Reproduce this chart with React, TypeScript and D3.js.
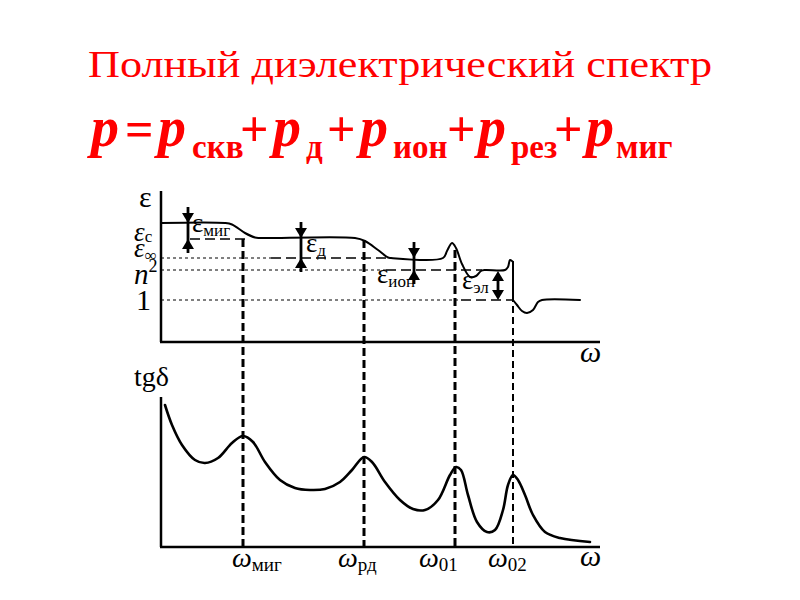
import React from "react";
import * as d3 from "d3";

// ---------- data ----------
const titleText = "Полный диэлектрический спектр";
const formulaTerms = ["скв", "д", "ион", "рез", "миг"];

// resonance / relaxation frequencies (x in lg ω units)
const resonanceLabels = ["миг", "рд", "01", "02"];
const resonanceX = [8.2, 20.3, 29.4, 35.2];
const resonanceTopEps = [103, 102, 92, 80];
const resonanceBold = [true, true, true, false];

// ε(ω) curve, part before the sharp drop and after it
const epsCurveA: [number, number][] = [
  [0, 119], [6.4, 119], [7.1, 117.5], [8.4, 109], [9.4, 104.5], [9.9, 104],
  [19.4, 104], [20.4, 101], [21.7, 92], [22.7, 84.5], [23.0, 84],
  [28.2, 84], [28.6, 91], [29.1, 99], [29.5, 94], [30.1, 78], [30.9, 65],
  [31.5, 66], [32.0, 71], [32.4, 72], [34.4, 72], [34.7, 75], [34.9, 82],
  [35.1, 81], [35.2, 80],
];
const epsCurveB: [number, number][] = [
  [35.2, 42], [35.6, 37], [36.1, 31], [36.6, 29], [37.2, 32], [37.7, 40], [38.1, 42], [41.9, 42],
];

// ε level marks
const levelValues = [103, 84, 72, 42];
const levelFineEnd = [null, 11.0, 22.5, 30.0];
const levelLongStart = [2.9, 11.0, 22.5, 30.0];
const levelLongEnd = [8.4, 23.0, 32.1, 35.2];

// ε steps (arrows)
const stepNames = ["миг", "д", "ион", "эл"];
const stepX = [2.7, 14.0, 25.3, 33.7];
const stepHigh = [119, 104, 84, 72];
const stepLow = [103, 84, 72, 42];
const stepInside = [false, false, false, true];

// tgδ(ω) curve
const tgCurve: [number, number][] = [
  [0.4, 142], [1.1, 122], [2.1, 102], [3.4, 87], [4.4, 84], [5.7, 89], [7.1, 104],
  [8.2, 111], [9.2, 105], [10.4, 85], [11.9, 67], [13.4, 59], [14.9, 57], [16.4, 58],
  [17.9, 65], [19.1, 77], [20.3, 90], [21.1, 85], [22.4, 65], [23.9, 47], [25.2, 38],
  [26.4, 37], [27.7, 47], [28.9, 72], [29.5, 80], [30.0, 77], [30.7, 52], [31.6, 25],
  [32.6, 15], [33.4, 17], [34.2, 37], [34.7, 62], [35.2, 72], [35.7, 67], [36.4, 52],
  [37.2, 32], [38.4, 15], [39.9, 9], [42.9, 5],
];

// ---------- layout ----------
const FONT = "Liberation Serif";
const x = d3.scaleLinear().domain([0, 44]).range([161, 601]);
const yU = d3.scaleLinear().domain([0, 150]).range([342, 192]);
const yL = d3.scaleLinear().domain([0, 150]).range([547, 397]);

const formulaPX = [158, 273, 360, 478, 586];
const formulaSubX = [192, 306, 393, 511, 616];
const formulaPlusX = [240, 327, 447, 554];
const stepLabelPos = [[192, 232], [306, 252], [377, 283], [462, 289]];
const resLabelX = [232, 338, 419, 488];

const lineU = d3.line<[number, number]>().x(d => x(d[0])).y(d => yU(d[1])).curve(d3.curveCatmullRom.alpha(0.5));
const lineL = d3.line<[number, number]>().x(d => x(d[0])).y(d => yL(d[1])).curve(d3.curveCatmullRom.alpha(0.5));

function Arrowhead({ cx, tip, dir }: { cx: number; tip: number; dir: 1 | -1 }) {
  // dir=1 : points down ; dir=-1 : points up
  const base = tip - dir * 10;
  return <path d={`M${cx - 6},${base} L${cx + 6},${base} L${cx},${tip} Z`} fill="#000" />;
}

export default function App() {
  return (
    <svg width={800} height={600} style={{ position: "absolute", left: 0, top: 0, background: "#fff" }}
      fontFamily={FONT}>
      <rect width={800} height={600} fill="#fff" />
      {/* title */}
      <text x={88} y={77} fontSize={38} fill="#ff0000" textLength={624} lengthAdjust="spacingAndGlyphs">{titleText}</text>
      {/* formula */}
      <g fill="#ff0000" style={{ fontFamily: "'Times New Roman', 'Liberation Serif', serif" }}>
        <text x={91} y={146} fontSize={56} fontStyle="italic" fontWeight="bold">p</text>
        <text x={125} y={146} fontSize={50} fontWeight="bold">=</text>
        {formulaTerms.map((t, i) => (
          <g key={t}>
            <text x={formulaPX[i]} y={146} fontSize={56} fontStyle="italic" fontWeight="bold">p</text>
            <text x={formulaSubX[i]} y={158} fontSize={33} fontWeight="bold">{t}</text>
          </g>
        ))}
        {formulaPlusX.map((px, i) => (
          <text key={i} x={px} y={146} fontSize={50} fontWeight="bold">+</text>
        ))}
      </g>

      {/* axes */}
      <g stroke="#000" strokeWidth={2.5} fill="none">
        <line x1={x(0)} x2={x(0)} y1={yU(151)} y2={yU(0)} />
        <line x1={x(0) - 1} x2={x(43.9)} y1={yU(0)} y2={yU(0)} />
        <line x1={x(0)} x2={x(0)} y1={yL(150)} y2={yL(0)} />
        <line x1={x(0) - 1} x2={x(43.9)} y1={yL(0)} y2={yL(0)} />
      </g>

      {/* level lines */}
      <g stroke="#000" fill="none">
        {levelValues.map((v, i) => (
          <g key={i}>
            {levelFineEnd[i] !== null && (
              <line x1={x(0)} x2={x(levelFineEnd[i] as number)} y1={yU(v)} y2={yU(v)} strokeWidth={1} strokeDasharray="3,3" />
            )}
            <line x1={x(levelLongStart[i])} x2={x(levelLongEnd[i])} y1={yU(v)} y2={yU(v)} strokeWidth={1.6} strokeDasharray="10,5" />
          </g>
        ))}
      </g>

      {/* resonance verticals */}
      <g stroke="#000" fill="none">
        {resonanceX.map((r, i) => (
          <line key={i} x1={x(r)} x2={x(r)} y1={yU(resonanceTopEps[i])} y2={yL(0)}
            strokeWidth={resonanceBold[i] ? 3 : 2} strokeDasharray={resonanceBold[i] ? "8,4" : "7,4"} />
        ))}
      </g>

      {/* curves */}
      <g stroke="#000" fill="none" strokeLinejoin="round" strokeLinecap="round">
        <path d={lineU(epsCurveA) || ""} strokeWidth={2} />
        <line x1={x(epsCurveA[epsCurveA.length - 1][0])} x2={x(epsCurveB[0][0])}
          y1={yU(epsCurveA[epsCurveA.length - 1][1])} y2={yU(epsCurveB[0][1])} strokeWidth={2} />
        <path d={lineU(epsCurveB) || ""} strokeWidth={2} />
        <path d={lineL(tgCurve) || ""} strokeWidth={2.6} />
      </g>

      {/* step arrows */}
      {stepNames.map((n, i) => {
        const cx = x(stepX[i]);
        const hi = yU(stepHigh[i]);
        const lo = yU(stepLow[i]);
        if (stepInside[i]) {
          return (
            <g key={n}>
              <line x1={cx} x2={cx} y1={hi + 6} y2={lo - 6} stroke="#000" strokeWidth={2.8} />
              <Arrowhead cx={cx} tip={hi + 1} dir={-1} />
              <Arrowhead cx={cx} tip={lo} dir={1} />
            </g>
          );
        }
        return (
          <g key={n}>
            <line x1={cx} x2={cx} y1={hi - 16} y2={lo + 14} stroke="#000" strokeWidth={2.8} />
            <Arrowhead cx={cx} tip={hi} dir={1} />
            <Arrowhead cx={cx} tip={lo} dir={-1} />
          </g>
        );
      })}

      {/* step labels */}
      {stepNames.map((n, i) => (
        <text key={n} x={stepLabelPos[i][0]} y={stepLabelPos[i][1]} fontSize={27}>
          ε<tspan fontSize={17} dy={4}>{n}</tspan>
        </text>
      ))}

      {/* y labels upper */}
      <text x={139} y={207} fontSize={30}>ε</text>
      <text x={134} y={241} fontSize={27} fontStyle="italic">ε<tspan fontSize={17} dy={1} fontStyle="normal">с</tspan></text>
      <text x={134} y={257} fontSize={27} fontStyle="italic">ε<tspan fontSize={17} dy={4} fontStyle="normal">∞</tspan></text>
      <text x={134} y={284} fontSize={29} fontStyle="italic">n<tspan fontSize={18} dy={-12} fontStyle="normal">2</tspan></text>
      <text x={136} y={310} fontSize={30}>1</text>

      {/* ω labels */}
      <text x={580} y={362} fontSize={30} fontStyle="italic">ω</text>
      <text x={580} y={566} fontSize={30} fontStyle="italic">ω</text>
      <text x={134} y={386} fontSize={28}>tgδ</text>

      {/* resonance labels */}
      {resonanceLabels.map((l, i) => (
        <text key={l} x={resLabelX[i]} y={567} fontSize={28} fontStyle="italic">
          ω<tspan fontStyle="normal" fontSize={19} dy={4}>{l}</tspan>
        </text>
      ))}
    </svg>
  );
}
